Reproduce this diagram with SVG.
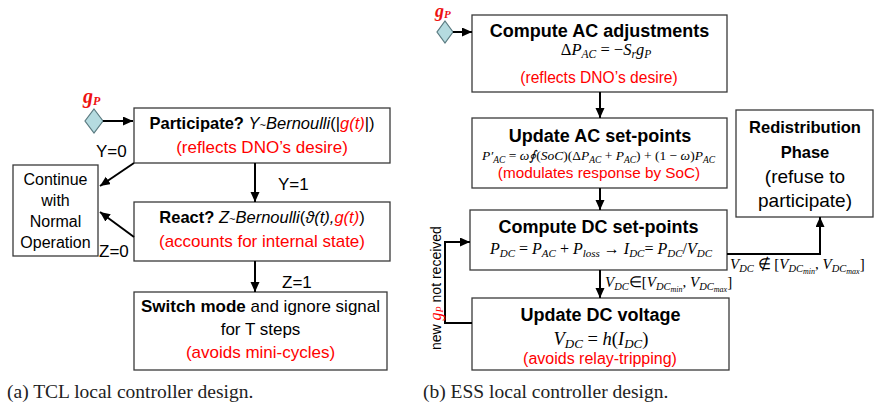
<svg xmlns="http://www.w3.org/2000/svg" width="875" height="411" viewBox="0 0 875 411">
<style>
  text { font-family: "Liberation Sans", Arial, sans-serif; fill: #000; }
  .box { fill: #fff; stroke: #3a3a3a; stroke-width: 1.3; }
  .conn { stroke: #000; stroke-width: 2; fill: none; }
  .arr { marker-end: url(#ah); }
  .red { fill: #ff0000; }
  .b { font-weight: bold; }
  .i { font-style: italic; }
  .m { font-family: "Liberation Serif", "Times New Roman", serif; font-style: italic; }
  .up { font-style: normal; }
  .gp { font-family: "Liberation Serif", "Times New Roman", serif; font-style: italic; font-weight: bold; fill: #ee1111; }
  .cap { font-family: "Liberation Serif", "Times New Roman", serif; font-size: 19.5px; fill: #222; }
  .dia { fill: #b5dbe0; stroke: #5a7a80; stroke-width: 1.2; }
  .lbl { font-size: 17px; }
</style>
<defs>
  <marker id="ah" markerUnits="userSpaceOnUse" markerWidth="10" markerHeight="10" refX="10" refY="4.5" orient="auto">
    <path d="M0,0 L10,4.5 L0,9 z" fill="#000"/>
  </marker>
</defs>

<!-- ===== Left panel (a) ===== -->
<g id="gp-left">
  <text x="83" y="103" class="gp" font-size="20">g<tspan font-size="12" dy="2">P</tspan></text>
  <polygon class="dia" points="94,109 103,121 94,133 85,121"/>
</g>

<g id="participate">
  <rect class="box" x="134" y="108" width="256" height="55"/>
  <text x="262" y="129" text-anchor="middle" font-size="16.5"><tspan class="b">Participate?</tspan> <tspan class="i">Y</tspan><tspan font-size="11">~</tspan><tspan class="i">Bernoulli</tspan>(|<tspan class="i red">g(t)</tspan>|)</text>
  <text x="262" y="153" text-anchor="middle" font-size="17" class="red">(reflects DNO’s desire)</text>
</g>

<g id="continue">
  <rect class="box" x="13" y="165" width="85" height="91"/>
  <text x="55.5" y="185" text-anchor="middle" font-size="16">Continue</text>
  <text x="55.5" y="206" text-anchor="middle" font-size="16">with</text>
  <text x="55.5" y="227" text-anchor="middle" font-size="16">Normal</text>
  <text x="55.5" y="248" text-anchor="middle" font-size="16">Operation</text>
</g>

<g id="react">
  <rect class="box" x="134" y="202" width="256" height="59"/>
  <text x="262" y="223" text-anchor="middle" font-size="16.5"><tspan class="b">React?</tspan> <tspan class="i">Z</tspan><tspan font-size="11">~</tspan><tspan class="i">Bernoulli</tspan>(<tspan class="i">ϑ(t),</tspan><tspan class="i red">g(t)</tspan>)</text>
  <text x="262" y="247" text-anchor="middle" font-size="17" class="red">(accounts for internal state)</text>
</g>

<g id="switch">
  <rect class="box" x="134" y="292" width="253" height="78"/>
  <text x="260.5" y="312" text-anchor="middle" font-size="17"><tspan class="b">Switch mode</tspan> and ignore signal</text>
  <text x="260.5" y="335" text-anchor="middle" font-size="17">for T steps</text>
  <text x="260.5" y="358" text-anchor="middle" font-size="17" class="red">(avoids mini-cycles)</text>
</g>

<g id="caption-a">
  <text x="7" y="398" class="cap">(a) TCL local controller design.</text>
</g>

<!-- ===== Right panel (b) ===== -->
<g id="gp-right">
  <text x="435" y="17" class="gp" font-size="18">g<tspan font-size="11" dy="1">P</tspan></text>
  <polygon class="dia" points="445,21 453,32 445,43 437,32"/>
</g>

<g id="compute-ac">
  <rect class="box" x="472" y="15" width="255" height="77"/>
  <text x="599.5" y="37" text-anchor="middle" font-size="18" class="b">Compute AC adjustments</text>
  <text x="606" y="55" text-anchor="middle" font-size="16.5" class="m"><tspan class="up">Δ</tspan>P<tspan font-size="11.5" dy="3">AC</tspan><tspan class="up" dy="-3"> = −</tspan>S<tspan font-size="11.5" dy="3">r</tspan><tspan dy="-3">g</tspan><tspan font-size="11.5" dy="3">P</tspan></text>
  <text x="599" y="83" text-anchor="middle" font-size="15.6" class="red">(reflects DNO’s desire)</text>
</g>

<g id="update-ac">
  <rect class="box" x="472" y="118" width="255" height="70"/>
  <text x="600" y="142" text-anchor="middle" font-size="18" class="b">Update AC set-points</text>
  <text x="598.5" y="160" text-anchor="middle" font-size="13.5" class="m">P′<tspan font-size="9.5" dy="3">AC</tspan><tspan class="up" dy="-3"> = </tspan>ω∮<tspan class="up">(</tspan>SoC<tspan class="up">)(Δ</tspan>P<tspan font-size="9.5" dy="3">AC</tspan><tspan class="up" dy="-3"> + </tspan>P<tspan font-size="9.5" dy="3">AC</tspan><tspan class="up" dy="-3">) + (1 − </tspan>ω<tspan class="up">)</tspan>P<tspan font-size="9.5" dy="3">AC</tspan></text>
  <text x="599" y="178" text-anchor="middle" font-size="15.3" class="red">(modulates response by SoC)</text>
</g>

<g id="redistribution">
  <rect class="box" x="736" y="110" width="137" height="107"/>
  <text x="805" y="133" text-anchor="middle" font-size="16.5" class="b">Redistribution</text>
  <text x="805" y="158" text-anchor="middle" font-size="16.5" class="b">Phase</text>
  <text x="805" y="183" text-anchor="middle" font-size="19">(refuse to</text>
  <text x="805" y="207" text-anchor="middle" font-size="19">participate)</text>
</g>

<g id="compute-dc">
  <rect class="box" x="470" y="210" width="257" height="60"/>
  <text x="598.5" y="233" text-anchor="middle" font-size="18" class="b">Compute DC set-points</text>
  <text x="601" y="254" text-anchor="middle" font-size="16" class="m">P<tspan font-size="11" dy="3">DC</tspan><tspan class="up" dy="-3"> = </tspan>P<tspan font-size="11" dy="3">AC</tspan><tspan class="up" dy="-3"> + </tspan>P<tspan font-size="11" dy="3">loss</tspan><tspan class="up" dy="-3"> → </tspan>I<tspan font-size="11" dy="3">DC</tspan><tspan class="up" dy="-3">= </tspan>P<tspan font-size="11" dy="3">DC</tspan><tspan class="up" dy="-3">/</tspan>V<tspan font-size="11" dy="3">DC</tspan></text>
</g>

<g id="update-dc">
  <rect class="box" x="472" y="298" width="257" height="72"/>
  <text x="600.5" y="321" text-anchor="middle" font-size="18" class="b">Update DC voltage</text>
  <text x="601" y="345" text-anchor="middle" font-size="18.5" class="m">V<tspan font-size="13" dy="3">DC</tspan><tspan class="up" dy="-3"> = </tspan>h<tspan class="up">(</tspan>I<tspan font-size="13" dy="3">DC</tspan><tspan class="up" dy="-3">)</tspan></text>
  <text x="600" y="364" text-anchor="middle" font-size="16" class="red">(avoids relay-tripping)</text>
</g>

<g id="caption-b">
  <text x="423" y="398" class="cap">(b) ESS local controller design.</text>
</g>

<!-- ===== Connectors ===== -->
<g id="connectors">
  <line class="conn arr" x1="103" y1="121" x2="133" y2="121"/>
  <line class="conn arr" x1="134" y1="163" x2="100" y2="186"/>
  <line class="conn arr" x1="255" y1="163" x2="255" y2="202"/>
  <line class="conn arr" x1="134" y1="237" x2="100" y2="212"/>
  <line class="conn arr" x1="255" y1="261" x2="255" y2="292"/>

  <line class="conn arr" x1="453" y1="32" x2="472" y2="32"/>
  <line class="conn arr" x1="600" y1="92" x2="600" y2="118"/>
  <line class="conn arr" x1="600" y1="188" x2="600" y2="210"/>
  <line class="conn arr" x1="600" y1="270" x2="600" y2="298"/>
  <polyline class="conn arr" points="727,254 820,254 820,217"/>
  <polyline class="conn arr" points="472,323 445,323 445,242 470,242"/>

  <text x="96" y="157" class="lbl">Y=0</text>
  <text x="278" y="190" class="lbl">Y=1</text>
  <text x="99" y="257" class="lbl">Z=0</text>
  <text x="282" y="288" class="lbl">Z=1</text>

  <text x="730" y="269" font-size="15" class="m">V<tspan font-size="10.5" dy="3">DC</tspan><tspan class="up" dy="-3"> ∉ [</tspan>V<tspan font-size="10.5" dy="3">DC</tspan><tspan font-size="8" dy="2">min</tspan><tspan class="up" dy="-5">, </tspan>V<tspan font-size="10.5" dy="3">DC</tspan><tspan font-size="8" dy="2">max</tspan><tspan class="up" dy="-5">]</tspan></text>
  <text x="605" y="287" font-size="15" class="m">V<tspan font-size="10.5" dy="3">DC</tspan><tspan class="up" dy="-3">∈[</tspan>V<tspan font-size="10.5" dy="3">DC</tspan><tspan font-size="8" dy="2">min</tspan><tspan class="up" dy="-5">, </tspan>V<tspan font-size="10.5" dy="3">DC</tspan><tspan font-size="8" dy="2">max</tspan><tspan class="up" dy="-5">]</tspan></text>

  <text transform="translate(441,350) rotate(-90)" font-size="14">new <tspan class="m red" font-size="16">g</tspan><tspan class="m red" font-size="10" dy="2">P</tspan><tspan dy="-2"> not received</tspan></text>
</g>
</svg>
